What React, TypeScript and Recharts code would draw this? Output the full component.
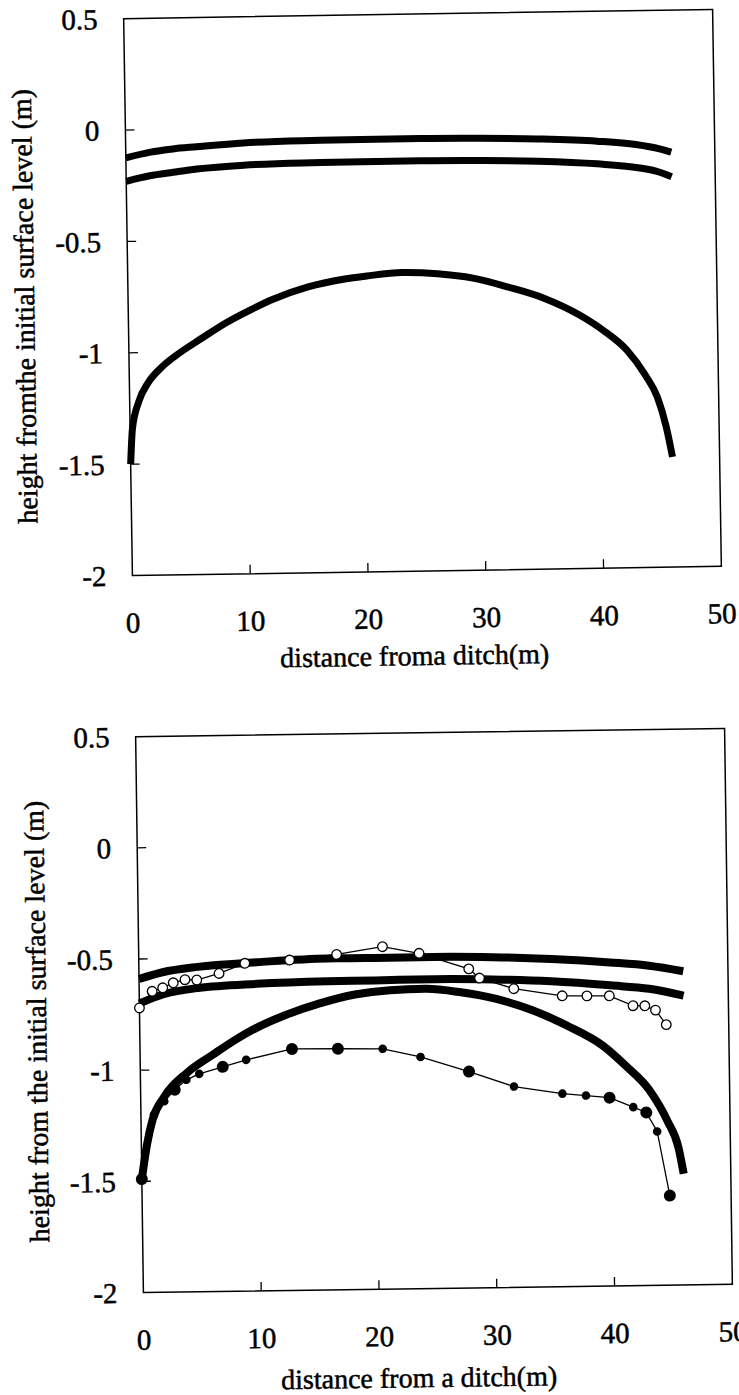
import React from 'react';
import { LineChart, Line, XAxis, YAxis, ReferenceArea } from 'recharts';

// upper panel: simulated surfaces (m) against distance from the ditch (m)
const topSurfDist = [0, 2, 4, 6, 10, 15, 20, 25, 30, 35, 40, 43.3, 45.3, 46.3];
const topSurfUpper = [-0.125, -0.102, -0.088, -0.08, -0.066, -0.06, -0.059, -0.059, -0.062, -0.069, -0.083, -0.101, -0.122, -0.138];
const topSurfLower = [-0.23, -0.207, -0.193, -0.18, -0.166, -0.16, -0.159, -0.159, -0.162, -0.169, -0.185, -0.204, -0.227, -0.248];

const topArchDist = [0, 0.2, 0.8, 1.6, 2.8, 4, 6.2, 8.3, 10.3, 12.3, 15.3, 18.3, 20.3, 23.3, 26.3, 29.3, 32.3, 35.3, 38.3, 40.3, 42.3, 43.8, 44.8, 45.5, 46];
const topArch = [-1.5, -1.34, -1.216, -1.135, -1.065, -1.015, -0.94, -0.872, -0.818, -0.77, -0.717, -0.685, -0.672, -0.659, -0.667, -0.689, -0.732, -0.784, -0.862, -0.933, -1.025, -1.136, -1.237, -1.368, -1.505];

// lower panel
const botSurfDist = [0, 2, 5, 10, 16, 20, 25, 30, 35, 40, 43.3, 46.2];
const botSurfUpper = [-0.59, -0.561, -0.539, -0.522, -0.509, -0.51, -0.509, -0.514, -0.526, -0.545, -0.562, -0.589];
const botSurfLower = [-0.7, -0.661, -0.634, -0.619, -0.612, -0.611, -0.609, -0.614, -0.626, -0.648, -0.666, -0.699];

const botArchDist = [0, 0.5, 1, 2, 4, 6.2, 8.2, 10.3, 12.3, 15.3, 18.3, 21.3, 24.3, 27.3, 30.3, 33.3, 36.3, 39.3, 41.2, 43.2, 44.7, 45.6, 46];
const botArch = [-1.49, -1.33, -1.221, -1.121, -1.013, -0.934, -0.866, -0.807, -0.763, -0.711, -0.673, -0.656, -0.652, -0.67, -0.702, -0.754, -0.827, -0.919, -1.01, -1.122, -1.263, -1.384, -1.5];

// measured points
const openDist = [0, 1.1, 2.0, 2.9, 3.9, 4.9, 6.8, 9.0, 12.8, 16.8, 20.7, 23.8, 28.0, 28.9, 31.8, 35.9, 38.0, 39.9, 41.9, 42.9, 43.8, 44.7];
const openHeight = [-0.72, -0.646, -0.631, -0.609, -0.596, -0.598, -0.57, -0.526, -0.514, -0.492, -0.46, -0.492, -0.565, -0.607, -0.657, -0.692, -0.694, -0.695, -0.741, -0.742, -0.762, -0.828];

const filledDist = [0, 1.1, 2.0, 2.9, 3.9, 5.0, 7.0, 9.0, 12.9, 16.8, 20.6, 23.8, 27.9, 31.7, 35.8, 37.8, 39.8, 41.8, 42.9, 43.8, 44.8];
const filledHeight = [-1.49, -1.201, -1.141, -1.09, -1.046, -1.02, -0.99, -0.96, -0.914, -0.916, -0.919, -0.958, -1.027, -1.097, -1.132, -1.142, -1.153, -1.197, -1.222, -1.308, -1.597];

const xTicks = [0, 10, 20, 30, 40, 50];
const yTicks = [0.5, 0, -0.5, -1, -1.5, -2];

// which filled markers are drawn larger in the scan
const BIG_FILLED = [0, 3, 6, 8, 9, 12, 16, 18, 20];

const FONT = '"Liberation Serif", "Times New Roman", serif';

const pts = (xs: number[], ys: number[]) => xs.map((x, i) => ({ x, y: ys[i] }));

const textStyle = { fontFamily: FONT };

function XTick({ x, y, payload }: any) {
  const v = payload.value;
  const inner = v !== 0 && v !== 50;
  return (
    <g>
      {inner && <line x1={x} x2={x} y1={y} y2={y - 9} stroke="#000" strokeWidth={1.3} />}
      <text x={x} y={y + 57} textAnchor="middle" fontSize={29} style={textStyle} fill="#000" stroke="#000" strokeWidth={0.5}>
        {v}
      </text>
    </g>
  );
}

function YTick({ x, y, payload }: any) {
  const v = payload.value;
  const inner = v !== 0.5 && v !== -2;
  return (
    <g>
      {inner && <line x1={x} x2={x + 9} y1={y} y2={y} stroke="#000" strokeWidth={1.3} />}
      <text x={x - 26} y={y} dy="0.35em" textAnchor="end" fontSize={29} style={textStyle} fill="#000" stroke="#000" strokeWidth={0.5}>
        {String(v)}
      </text>
    </g>
  );
}

function Axes() {
  return [
    <XAxis
      key="x"
      type="number"
      dataKey="x"
      domain={[0, 50]}
      ticks={xTicks}
      interval={0}
      height={60}
      tickSize={0}
      tickMargin={0}
      axisLine={false}
      tickLine={false}
      tick={(p: any) => <XTick {...p} />}
    />,
    <YAxis
      key="y"
      type="number"
      dataKey="y"
      domain={[-2, 0.5]}
      ticks={yTicks}
      interval={0}
      width={100}
      tickSize={0}
      tickMargin={0}
      axisLine={false}
      tickLine={false}
      tick={(p: any) => <YTick {...p} />}
    />,
    <ReferenceArea key="box" x1={0} x2={50} y1={-2} y2={0.5} fill="none" stroke="#000" strokeWidth={1.5} />,
  ];
}

function thick(data: any[], key: string, w: number) {
  return (
    <Line
      key={key}
      data={data}
      dataKey="y"
      type="monotone"
      stroke="#000"
      strokeWidth={w}
      dot={false}
      activeDot={false}
      isAnimationActive={false}
    />
  );
}

function TopChart() {
  return (
    <div
      style={{
        position: 'absolute',
        left: 0,
        top: 0,
        width: 739,
        height: 700,
        transform: 'rotate(-0.9deg)',
        transformOrigin: '422.5px 292.5px',
      }}
    >
      <LineChart width={739} height={700} margin={{ top: 14, right: 22, bottom: 69, left: 28 }}>
        {Axes()}
        {thick(pts(topSurfDist, topSurfUpper), 'a', 7)}
        {thick(pts(topSurfDist, topSurfLower), 'b', 7)}
        {thick(pts(topArchDist, topArch), 'c', 7)}
      </LineChart>
      <svg width={739} height={700} style={{ position: 'absolute', left: 0, top: 0, pointerEvents: 'none' }}>
        <text x={409} y={665} textAnchor="middle" fontSize={28} style={textStyle} fill="#000" stroke="#000" strokeWidth={0.5}>
          distance froma ditch(m)
        </text>
        <text transform="translate(34,300) rotate(-90)" textAnchor="middle" fontSize={28} style={textStyle} fill="#000" stroke="#000" strokeWidth={0.5}>
          height fromthe initial surface level (m)
        </text>
      </svg>
    </div>
  );
}

function BottomChart() {
  return (
    <div
      style={{
        position: 'absolute',
        left: 0,
        top: 700,
        width: 739,
        height: 695,
        transform: 'rotate(-0.8deg)',
        transformOrigin: '434px 310.5px',
      }}
    >
      <LineChart width={739} height={695} margin={{ top: 32.5, right: 10.5, bottom: 46.5, left: 39.5 }}>
        {Axes()}
        {thick(pts(botSurfDist, botSurfUpper), 'a', 8)}
        {thick(pts(botSurfDist, botSurfLower), 'b', 8)}
        {thick(pts(botArchDist, botArch), 'c', 8)}
        <Line
          data={pts(openDist, openHeight)}
          dataKey="y"
          type="linear"
          stroke="#000"
          strokeWidth={1.3}
          activeDot={false}
          isAnimationActive={false}
          dot={(p: any) => (
            <circle key={`o${p.index}`} cx={p.cx} cy={p.cy} r={4.8} fill="#fff" stroke="#000" strokeWidth={1.3} />
          )}
        />
        <Line
          data={pts(filledDist, filledHeight)}
          dataKey="y"
          type="linear"
          stroke="#000"
          strokeWidth={1.3}
          activeDot={false}
          isAnimationActive={false}
          dot={(p: any) => (
            <circle key={`f${p.index}`} cx={p.cx} cy={p.cy} r={BIG_FILLED.includes(p.index) ? 6 : 4.3} fill="#000" />
          )}
        />
      </LineChart>
      <svg width={739} height={695} style={{ position: 'absolute', left: 0, top: 0, pointerEvents: 'none' }}>
        <text x={414} y={687} textAnchor="middle" fontSize={28} style={textStyle} fill="#000" stroke="#000" strokeWidth={0.5}>
          distance from a ditch(m)
        </text>
        <text transform="translate(46,316) rotate(-90)" textAnchor="middle" fontSize={28} style={textStyle} fill="#000" stroke="#000" strokeWidth={0.5}>
          height from the initial surface level (m)
        </text>
      </svg>
    </div>
  );
}

export default function App() {
  return (
    <div style={{ position: 'absolute', left: 0, top: 0, width: 739, height: 1395, background: '#fff', overflow: 'hidden' }}>
      <TopChart />
      <BottomChart />
    </div>
  );
}
